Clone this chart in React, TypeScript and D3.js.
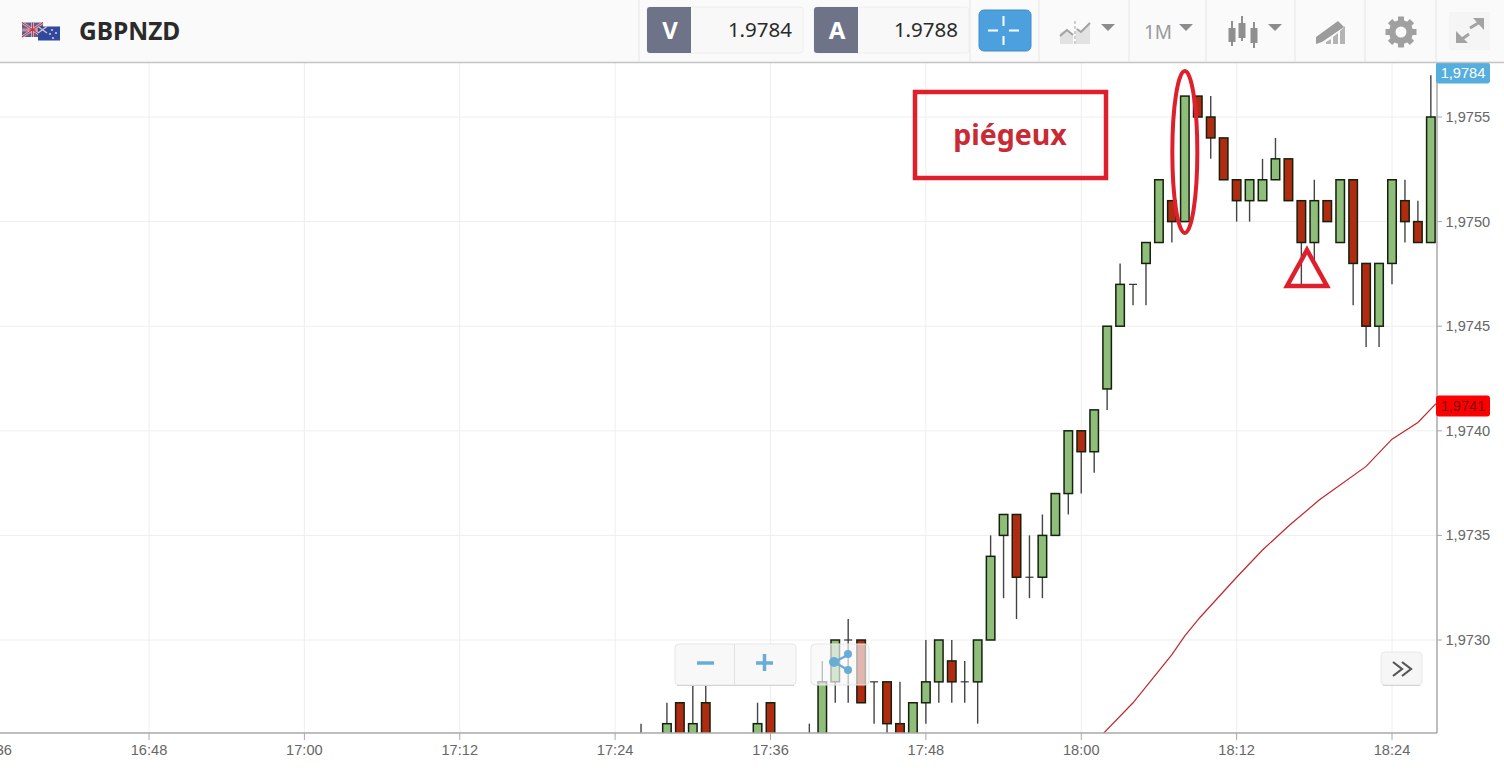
import { useEffect, useRef } from 'react';
import * as d3 from 'd3';

// minutes since midnight
const minutes = [
  1046, 1048, 1049, 1050, 1051, 1055, 1056, 1059, 1060, 1061, 1062, 1063, 1064, 1065, 1066, 1067, 1068, 1069,
  1070, 1071, 1072, 1073, 1074, 1075, 1076, 1077, 1078, 1079, 1080, 1081, 1082, 1083, 1084, 1085, 1086, 1087,
  1088, 1089, 1090, 1091, 1092, 1093, 1094, 1095, 1096, 1097, 1098, 1099, 1100, 1101, 1102, 1103, 1104, 1105,
  1106, 1107,
];
const opens = [
  1.9724, 1.9725, 1.9727, 1.9725, 1.9727, 1.9725, 1.9727, 1.9724, 1.9724, 1.9728, 1.9730, 1.9730, 1.9728, 1.9728,
  1.9726, 1.9724, 1.9727, 1.9728, 1.9729, 1.9728, 1.9728, 1.9730, 1.9735, 1.9736, 1.9733, 1.9733, 1.9735, 1.9737,
  1.9740, 1.9739, 1.9742, 1.9745, 1.9747, 1.9748, 1.9749, 1.9751, 1.9750, 1.9756, 1.9755, 1.9754, 1.9752, 1.9751,
  1.9751, 1.9752, 1.9753, 1.9751, 1.9749, 1.9751, 1.9749, 1.9752, 1.9748, 1.9745, 1.9748, 1.9751, 1.9750, 1.9749,
];
const closes = [
  1.9724, 1.9726, 1.9723, 1.9726, 1.9723, 1.9726, 1.9723, 1.9724, 1.9728, 1.9730, 1.9730, 1.9727, 1.9728, 1.9726,
  1.9725, 1.9727, 1.9728, 1.9730, 1.9728, 1.9728, 1.9730, 1.9734, 1.9736, 1.9733, 1.9733, 1.9735, 1.9737, 1.9740,
  1.9739, 1.9741, 1.9745, 1.9747, 1.9747, 1.9749, 1.9752, 1.9750, 1.9756, 1.9755, 1.9754, 1.9752, 1.9751, 1.9752,
  1.9752, 1.9753, 1.9751, 1.9749, 1.9751, 1.9750, 1.9752, 1.9748, 1.9745, 1.9748, 1.9752, 1.9750, 1.9749, 1.9755,
];
const highs = [
  1.9726, 1.9727, 1.9727, 1.9728, 1.9728, 1.9727, 1.9727, 1.9726, 1.9729, 1.9730, 1.9731, 1.9730, 1.9728, 1.9728,
  1.9728, 1.9727, 1.9730, 1.9730, 1.9730, 1.9729, 1.9730, 1.9735, 1.9736, 1.9736, 1.9735, 1.9736, 1.9737, 1.9740,
  1.9740, 1.9741, 1.9745, 1.9748, 1.9747, 1.9749, 1.9752, 1.9751, 1.9756, 1.9756, 1.9756, 1.9754, 1.9752, 1.9752,
  1.9753, 1.9754, 1.9753, 1.9751, 1.9752, 1.9751, 1.9752, 1.9752, 1.9748, 1.9748, 1.9752, 1.9752, 1.9751, 1.9757,
];
const lows = [
  1.9723, 1.9724, 1.9723, 1.9724, 1.9723, 1.9724, 1.9723, 1.9723, 1.9723, 1.9727, 1.9727, 1.9727, 1.9726, 1.9725,
  1.9724, 1.9724, 1.9726, 1.9727, 1.9727, 1.9727, 1.9726, 1.9730, 1.9732, 1.9731, 1.9732, 1.9732, 1.9735, 1.9736,
  1.9737, 1.9738, 1.9741, 1.9745, 1.9746, 1.9746, 1.9749, 1.9749, 1.9750, 1.9755, 1.9753, 1.9752, 1.9750, 1.9750,
  1.9751, 1.9752, 1.9751, 1.9747, 1.9748, 1.9750, 1.9749, 1.9746, 1.9744, 1.9744, 1.9747, 1.9749, 1.9749, 1.9749,
];

const maMinutes = [1081.5, 1084, 1087, 1088, 1089.2, 1092, 1094, 1096.1, 1098.4, 1102, 1104, 1106, 1107.4];
const maValues = [
  1.97254, 1.9727, 1.97293, 1.97302, 1.97311, 1.9733, 1.97343, 1.97355, 1.97367, 1.97383, 1.97396, 1.97404, 1.97413,
];

const priceTicks = [1.973, 1.9735, 1.974, 1.9745, 1.975, 1.9755];
const timeTicks = [996, 1008, 1020, 1032, 1044, 1056, 1068, 1080, 1092, 1104];

const pair = 'GBPNZD';
const bid = '1.9784';
const ask = '1.9788';
const lastPrice = '1,9784';
const maPrice = '1,9741';

const W = 1504;
const H = 770;
const plot = { left: 0, top: 63, right: 1437, bottom: 733 };
const UP = '#8fbe7a';
const DOWN = '#b02c10';
const GRID = '#eeeeee';
const FONT = '"Liberation Sans", Arial, sans-serif';
const HEAD = '"Noto Sans", "Open Sans", sans-serif';

const fmtTime = (m: number) => `${Math.floor(m / 60)}:${String(m % 60).padStart(2, '0')}`;
const fmtPrice = (v: number) => v.toFixed(4).replace('.', ',');

export default function App() {
  const svgRef = useRef<SVGSVGElement>(null);

  useEffect(() => {
    if (!svgRef.current) return;
    const svg = d3.select(svgRef.current);
    svg.selectAll('*').remove();

    const x = d3.scaleLinear().domain([1008, 1104]).range([149, 1392]);
    const y = d3.scaleLinear().domain([1.973, 1.9755]).range([640, 117]);

    svg.append('rect').attr('width', W).attr('height', H).attr('fill', '#fff');

    const clip = svg.append('defs').append('clipPath').attr('id', 'plot-clip');
    clip.append('rect')
      .attr('x', plot.left).attr('y', plot.top)
      .attr('width', plot.right - plot.left).attr('height', plot.bottom - plot.top);

    // grid
    const grid = svg.append('g');
    grid.selectAll('.gy').data(priceTicks).enter().append('line')
      .attr('x1', plot.left).attr('x2', plot.right)
      .attr('y1', d => y(d)).attr('y2', d => y(d))
      .attr('stroke', GRID).attr('stroke-width', 1);
    grid.selectAll('.gx').data(timeTicks).enter().append('line')
      .attr('x1', d => x(d)).attr('x2', d => x(d))
      .attr('y1', plot.top).attr('y2', plot.bottom)
      .attr('stroke', GRID).attr('stroke-width', 1);

    const marks = svg.append('g').attr('clip-path', 'url(#plot-clip)');

    // candles
    const candles = minutes.map((m, i) => ({ m, o: opens[i], c: closes[i], h: highs[i], l: lows[i] }));
    marks.selectAll('.wick').data(candles).enter().append('line')
      .attr('x1', d => x(d.m)).attr('x2', d => x(d.m))
      .attr('y1', d => y(d.h)).attr('y2', d => y(d.l))
      .attr('stroke', '#444').attr('stroke-width', 1.4);
    const bodyW = 8.5;
    marks.selectAll('.body').data(candles.filter(d => d.o !== d.c)).enter().append('rect')
      .attr('x', d => x(d.m) - bodyW / 2)
      .attr('y', d => y(Math.max(d.o, d.c)))
      .attr('width', bodyW)
      .attr('height', d => Math.abs(y(d.o) - y(d.c)))
      .attr('fill', d => (d.c > d.o ? UP : DOWN))
      .attr('stroke', '#16200f').attr('stroke-width', 1.5);
    marks.selectAll('.doji').data(candles.filter(d => d.o === d.c)).enter().append('line')
      .attr('x1', d => x(d.m) - 4).attr('x2', d => x(d.m) + 4)
      .attr('y1', d => y(d.c)).attr('y2', d => y(d.c))
      .attr('stroke', '#333').attr('stroke-width', 1.2);

    // moving average
    const line = d3.line<number>().x((_, i) => x(maMinutes[i])).y(d => y(d));
    marks.append('path').datum(maValues)
      .attr('d', line)
      .attr('fill', 'none').attr('stroke', '#c0262c').attr('stroke-width', 1.2);

    // axes
    svg.append('line').attr('x1', plot.right).attr('x2', plot.right).attr('y1', plot.top).attr('y2', plot.bottom)
      .attr('stroke', '#a8a8a8').attr('stroke-width', 1.5);
    svg.append('line').attr('x1', 0).attr('x2', plot.right).attr('y1', plot.bottom).attr('y2', plot.bottom)
      .attr('stroke', '#a8a8a8').attr('stroke-width', 1.5);

    const yAxis = svg.append('g');
    yAxis.selectAll('line').data(priceTicks).enter().append('line')
      .attr('x1', plot.right).attr('x2', plot.right + 5)
      .attr('y1', d => y(d)).attr('y2', d => y(d))
      .attr('stroke', '#a8a8a8');
    yAxis.selectAll('text').data(priceTicks).enter().append('text')
      .attr('x', plot.right + 8.5).attr('y', d => y(d) + 5)
      .attr('font-family', FONT).attr('font-size', 14.6).attr('fill', '#666')
      .text(d => fmtPrice(d));

    const xAxis = svg.append('g');
    xAxis.selectAll('line').data(timeTicks).enter().append('line')
      .attr('x1', d => x(d)).attr('x2', d => x(d))
      .attr('y1', plot.bottom).attr('y2', plot.bottom + 7)
      .attr('stroke', '#a8a8a8');
    xAxis.selectAll('text').data(timeTicks).enter().append('text')
      .attr('x', d => x(d)).attr('y', 755)
      .attr('text-anchor', 'middle')
      .attr('font-family', FONT).attr('font-size', 14.6).attr('fill', '#666')
      .text(d => fmtTime(d));

    // price tags
    const tag = (py: number, fill: string, txt: string, color: string) => {
      svg.append('rect').attr('x', 1436).attr('y', py - 10.5).attr('width', 54).attr('height', 21).attr('rx', 3).attr('fill', fill);
      svg.append('text').attr('x', 1463).attr('y', py + 5).attr('text-anchor', 'middle')
        .attr('font-family', FONT).attr('font-size', 14.6).attr('fill', color).text(txt);
    };
    tag(73, '#55aede', lastPrice, '#fff');
    tag(406, '#fc0000', maPrice, '#7a1010');

    // toolbar
    const bar = svg.append('g');
    bar.append('rect').attr('width', W).attr('height', 62).attr('fill', '#fafafa');
    bar.append('line').attr('x1', 0).attr('x2', W).attr('y1', 62.5).attr('y2', 62.5).attr('stroke', '#c4c4c4').attr('stroke-width', 1.5);
    [639, 970, 1039, 1129, 1206, 1295, 1365, 1436].forEach(sx => {
      bar.append('line').attr('x1', sx).attr('x2', sx).attr('y1', 0).attr('y2', 62).attr('stroke', '#e6e6e6');
    });
    bar.append('text').attr('x', 79).attr('y', 40).attr('font-family', HEAD).attr('font-weight', 700).attr('font-size', 24.5).attr('fill', '#2a2a2a').text(pair);

    // flags
    bar.append('rect').attr('x', 22).attr('y', 22.5).attr('width', 21).attr('height', 14.5).attr('fill', '#5a5f98');
    bar.append('path').attr('d', 'M22 22.5L43 37M43 22.5L22 37M32.5 22.5V37M22 30H43').attr('stroke', '#ecd4d4').attr('stroke-width', 2.4);
    bar.append('path').attr('d', 'M32.5 22.5V37M22 30H43M22 22.5L43 37M43 22.5L22 37').attr('stroke', '#c0394a').attr('stroke-width', 1.1);
    bar.append('rect').attr('x', 38).attr('y', 26.5).attr('width', 22).attr('height', 14).attr('fill', '#2f4a9c');
    bar.append('path').attr('d', 'M38 26.5L47 33M47 26.5L38 33').attr('stroke', '#dfc0c8').attr('stroke-width', 1.3);
    [[52, 30], [56, 33], [50, 34], [53, 38]].forEach(([sx, sy]) => {
      bar.append('circle').attr('cx', sx).attr('cy', sy).attr('r', 0.9).attr('fill', '#f2d8de');
    });

    // bid / ask boxes
    const quote = (bx: number, w: number, letter: string, val: string, tx: number) => {
      bar.append('rect').attr('x', bx).attr('y', 7).attr('width', w).attr('height', 46).attr('rx', 3).attr('fill', '#f8f8f8').attr('stroke', '#eeeeee');
      bar.append('path').attr('d', `M${bx + 44} 7H${bx + 3}a3 3 0 0 0 -3 3V50a3 3 0 0 0 3 3H${bx + 44}Z`).attr('fill', '#6e7387');
      bar.append('text').attr('x', bx + 23).attr('y', 39).attr('text-anchor', 'middle').attr('font-family', HEAD).attr('font-weight', 700).attr('font-size', 24).attr('fill', '#fff').text(letter);
      bar.append('text').attr('x', tx).attr('y', 37).attr('text-anchor', 'end').attr('font-family', HEAD).attr('font-size', 20.5).attr('fill', '#2a2a2a').text(val);
    };
    quote(647, 156, 'V', bid, 792);
    quote(814, 155, 'A', ask, 958);

    // crosshair button
    bar.append('rect').attr('x', 979).attr('y', 10).attr('width', 52).attr('height', 41).attr('rx', 5).attr('fill', '#4ca0de').attr('stroke', '#3f8ec8');
    bar.append('path').attr('d', 'M1003.5 16V26M1003.5 36V45M988 30.5H998M1009 30.5H1019').attr('stroke', '#fff').attr('stroke-width', 2);

    const ICON = '#a3a3a3';
    const caret = (cx: number) => bar.append('path').attr('d', `M${cx - 7} 24H${cx + 7}L${cx} 31Z`).attr('fill', '#8c8c8c');
    // chart type
    bar.append('path').attr('d', 'M1060 44V33L1067 29L1073 34V44Z').attr('fill', '#e2e2e2');
    bar.append('path').attr('d', 'M1076 44V28L1080 31L1090 22V44Z').attr('fill', '#e2e2e2');
    bar.append('path').attr('d', 'M1060 36L1067 30L1073 35M1077 29L1081 32L1090 23').attr('fill', 'none').attr('stroke', ICON).attr('stroke-width', 2);
    bar.append('line').attr('x1', 1075).attr('x2', 1075).attr('y1', 21).attr('y2', 46).attr('stroke', ICON).attr('stroke-dasharray', '3 2');
    caret(1108);
    bar.append('text').attr('x', 1144).attr('y', 39).attr('font-family', HEAD).attr('font-size', 19).attr('fill', '#999').text('1M');
    caret(1186);
    // candles icon
    [[1232, 21, 46, 28, 42], [1242, 16, 41, 23, 38], [1254, 22, 48, 28, 43]].forEach(([cx, a, b, c, e]) => {
      bar.append('line').attr('x1', cx).attr('x2', cx).attr('y1', a).attr('y2', b).attr('stroke', '#8f8f8f').attr('stroke-width', 2);
      bar.append('rect').attr('x', cx - 3.5).attr('y', c).attr('width', 7).attr('height', e - c).attr('fill', '#8f8f8f');
    });
    caret(1275);
    // drawing icon
    bar.append('path').attr('d', 'M1326 44H1331V39L1326 42ZM1333 44H1338V33L1333 37ZM1340 44H1345V26L1340 31Z').attr('fill', '#b4b4b4');
    bar.append('path').attr('d', 'M1316 37L1338 21L1344 27L1322 42L1316 44Z').attr('fill', '#9c9c9c');
    // gear
    const gearArc = d3.arc<any>().innerRadius(5.5).outerRadius(12).startAngle(0).endAngle(2 * Math.PI);
    bar.append('path').attr('d', gearArc({})).attr('transform', 'translate(1401,32)').attr('fill', '#a0a0a0');
    d3.range(8).forEach(i => {
      bar.append('rect').attr('x', -3).attr('y', -15.5).attr('width', 6).attr('height', 5)
        .attr('transform', `translate(1401,32) rotate(${i * 45})`).attr('fill', '#a0a0a0');
    });
    // expand
    bar.append('rect').attr('x', 1449).attr('y', 12).attr('width', 41).attr('height', 38).attr('fill', '#f5f5f5');
    bar.append('path').attr('d', 'M1470 28L1480 22M1469 34L1462 39').attr('stroke', ICON).attr('stroke-width', 3);
    bar.append('path').attr('d', 'M1473 18H1484V30ZM1456 31V43H1468Z').attr('fill', ICON);

    // zoom + share controls
    const ctl = svg.append('g');
    ctl.append('rect').attr('x', 675).attr('y', 644).attr('width', 121).attr('height', 41).attr('rx', 4).attr('fill', '#f8f8f8').attr('stroke', '#e6e6e6');
    ctl.append('line').attr('x1', 734.5).attr('x2', 734.5).attr('y1', 644).attr('y2', 685).attr('stroke', '#e0e0e0');
    ctl.append('line').attr('x1', 677).attr('x2', 794).attr('y1', 685.5).attr('y2', 685.5).attr('stroke', '#d4d4d4');
    ctl.append('path').attr('d', 'M697 663H714M756 663H773M764.5 654V671').attr('stroke', '#68acd8').attr('stroke-width', 3.5).attr('fill', 'none');
    ctl.append('rect').attr('x', 811).attr('y', 644).attr('width', 58).attr('height', 41).attr('rx', 4).attr('fill', '#f8f8f8').attr('fill-opacity', 0.68).attr('stroke', '#e6e6e6');
    ctl.append('path').attr('d', 'M834 662L848 655M834 662L848 670').attr('stroke', '#68acd8').attr('stroke-width', 2.5);
    [[834, 662, 5], [848, 654, 4], [848, 670, 4]].forEach(([cx, cy, r]) => {
      ctl.append('circle').attr('cx', cx).attr('cy', cy).attr('r', r).attr('fill', '#68acd8');
    });
    ctl.append('rect').attr('x', 1381).attr('y', 652).attr('width', 41).attr('height', 33).attr('rx', 4).attr('fill', '#f6f6f6').attr('stroke', '#e8e8e8');
    ctl.append('line').attr('x1', 1383).attr('x2', 1420).attr('y1', 685.5).attr('y2', 685.5).attr('stroke', '#d4d4d4');
    ctl.append('path').attr('d', 'M1393 662L1402 669L1393 676M1402 662L1411 669L1402 676').attr('fill', 'none').attr('stroke', '#555').attr('stroke-width', 2.2);

    // annotations
    const RED = '#df202c';
    const note = svg.append('g');
    note.append('rect').attr('x', 915).attr('y', 92).attr('width', 191).attr('height', 86).attr('fill', 'none').attr('stroke', RED).attr('stroke-width', 4.5);
    note.append('text').attr('x', 1010).attr('y', 145).attr('text-anchor', 'middle').attr('font-family', HEAD).attr('font-weight', 700).attr('font-size', 28.5).attr('fill', '#c92a34').text('piégeux');
    note.append('ellipse').attr('cx', x(1088)).attr('cy', 152).attr('rx', 12.5).attr('ry', 81).attr('fill', 'none').attr('stroke', RED).attr('stroke-width', 4);
    note.append('path').attr('d', 'M1307 250L1327 286H1287Z').attr('fill', 'none').attr('stroke', RED).attr('stroke-width', 4.5);
  }, []);

  return (
    <div style={{ position: 'fixed', left: 0, top: 0 }}>
      <svg ref={svgRef} width={W} height={H} style={{ display: 'block' }} />
    </div>
  );
}
